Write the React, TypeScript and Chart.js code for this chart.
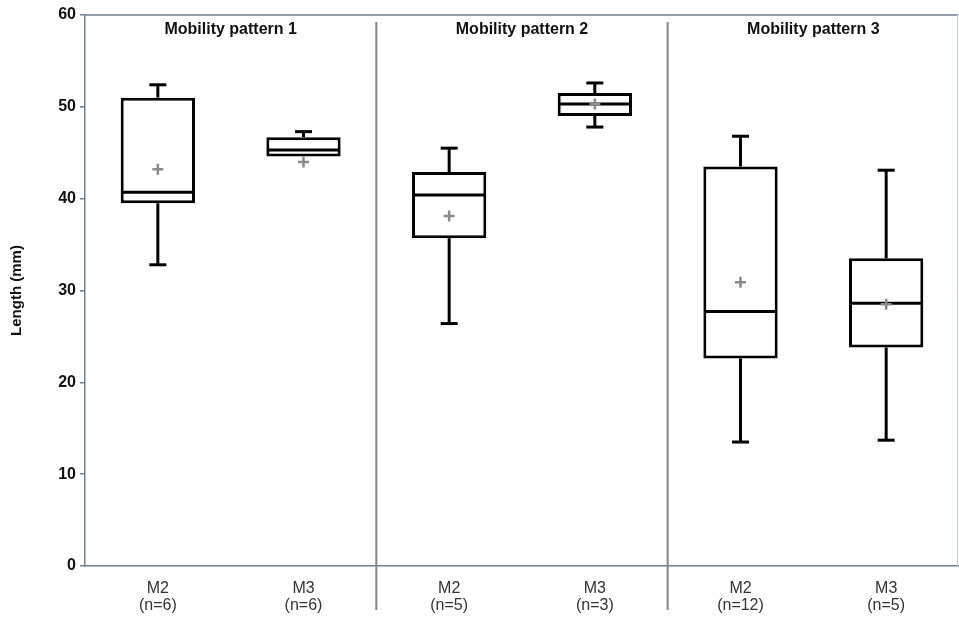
import React, { useEffect, useRef } from "react";
import { Chart, registerables } from "chart.js";

Chart.register(...registerables);

const categories: string[][] = [
  ["M2", "(n=6)"],
  ["M3", "(n=6)"],
  ["M2", "(n=5)"],
  ["M3", "(n=3)"],
  ["M2", "(n=12)"],
  ["M3", "(n=5)"],
];
const patterns = ["Mobility pattern 1", "Mobility pattern 2", "Mobility pattern 3"];
const mins = [32.8, 44.6, 26.4, 47.8, 13.5, 13.7];
const q1s = [39.5, 44.6, 35.7, 49.0, 22.6, 23.8];
const medians = [40.7, 45.3, 40.4, 50.3, 27.7, 28.6];
const q3s = [51.0, 46.7, 42.9, 51.5, 43.5, 33.5];
const maxs = [52.4, 47.3, 45.5, 52.6, 46.8, 43.1];
const means = [43.2, 44.0, 38.1, 50.3, 30.9, 28.5];
const yTicks = [0, 10, 20, 30, 40, 50, 60];

const FONT = "Arial, 'Liberation Sans', Helvetica, sans-serif";

const boxPlugin = {
  id: "boxExtras",
  afterDatasetDraw(chart: any, args: any) {
    if (args.index !== 0) return;
    const { ctx, scales } = chart;
    const x = scales.x;
    const y = scales.y;
    const meta = chart.getDatasetMeta(0);
    ctx.save();
    ctx.strokeStyle = "#000";
    ctx.lineWidth = 3;
    ctx.lineCap = "butt";
    for (let i = 0; i < categories.length; i++) {
      const bar = meta.data[i];
      const cx = x.getPixelForValue(i);
      const half = bar.width / 2 - 1.5;
      const ym = y.getPixelForValue(medians[i]);
      ctx.beginPath();
      ctx.moveTo(cx - half, ym);
      ctx.lineTo(cx + half, ym);
      ctx.stroke();
      const cap = 8.5;
      const segs: [number, number][] = [
        [q3s[i], maxs[i]],
        [q1s[i], mins[i]],
      ];
      for (const [a, b] of segs) {
        if (Math.abs(a - b) < 0.05) continue;
        const ya = y.getPixelForValue(a);
        const yb = y.getPixelForValue(b);
        ctx.beginPath();
        ctx.moveTo(cx, ya);
        ctx.lineTo(cx, yb);
        ctx.stroke();
        ctx.beginPath();
        ctx.moveTo(cx - cap, yb);
        ctx.lineTo(cx + cap, yb);
        ctx.stroke();
      }
    }
    ctx.restore();
  },
  afterDraw(chart: any) {
    const { ctx, scales, chartArea, height, width } = chart;
    const x = scales.x;
    const right = Math.min(chartArea.right, width - 1);
    ctx.save();
    ctx.strokeStyle = "#6f8090";
    ctx.lineWidth = 1.5;
    ctx.beginPath();
    ctx.moveTo(chartArea.left, chartArea.top);
    ctx.lineTo(right, chartArea.top);
    ctx.stroke();
    ctx.strokeStyle = "#c8d0d8";
    ctx.lineWidth = 1;
    ctx.beginPath();
    ctx.moveTo(right - 0.5, chartArea.top);
    ctx.lineTo(right - 0.5, chartArea.bottom);
    ctx.stroke();
    ctx.strokeStyle = "#858585";
    ctx.lineWidth = 2;
    for (let p = 1; p < patterns.length; p++) {
      const xd = (x.getPixelForValue(p * 2 - 1) + x.getPixelForValue(p * 2)) / 2;
      ctx.beginPath();
      ctx.moveTo(xd, chartArea.top + 7);
      ctx.lineTo(xd, height - 7);
      ctx.stroke();
    }
    ctx.fillStyle = "#111";
    ctx.font = `bold 16px ${FONT}`;
    ctx.textAlign = "center";
    ctx.textBaseline = "middle";
    for (let p = 0; p < patterns.length; p++) {
      const xc = (x.getPixelForValue(p * 2) + x.getPixelForValue(p * 2 + 1)) / 2;
      ctx.fillText(patterns[p], xc, chartArea.top + 15);
    }
    ctx.restore();
  },
};

export default function App() {
  const ref = useRef<HTMLCanvasElement | null>(null);
  useEffect(() => {
    if (!ref.current) return;
    const chart = new Chart(ref.current, {
      type: "bar",
      data: {
        labels: categories,
        datasets: [
          {
            type: "bar",
            data: q1s.map((q, i) => [q, q3s[i]]),
            backgroundColor: "#ffffff",
            borderColor: "#000000",
            borderWidth: 3,
            borderSkipped: false,
            barPercentage: 0.51,
            categoryPercentage: 1,
            order: 2,
          } as any,
          {
            type: "line",
            data: means,
            showLine: false,
            pointStyle: "cross",
            pointRadius: 5.5,
            pointBorderWidth: 2.5,
            pointBorderColor: "#8a8a8a",
            pointBackgroundColor: "#8a8a8a",
            order: 1,
          } as any,
        ],
      },
      options: {
        animation: false,
        responsive: false,
        maintainAspectRatio: false,
        layout: { autoPadding: false, padding: { top: 15, right: -3, left: 0, bottom: 0 } },
        plugins: {
          legend: { display: false },
          tooltip: { enabled: false },
          title: { display: false },
        },
        scales: {
          x: {
            type: "category",
            offset: true,
            grid: { display: false, drawTicks: false },
            border: { display: true, color: "#6f8090", width: 1.5 },
            ticks: {
              color: "#333",
              font: { family: FONT, size: 16, lineHeight: 1.05 },
              padding: 14,
              maxRotation: 0,
              autoSkip: false,
            },
            afterFit: (s: any) => {
              s.height = 51;
              s.paddingLeft = 0;
              s.paddingRight = 0;
            },
          },
          y: {
            type: "linear",
            min: 0,
            max: 60,
            afterBuildTicks: (s: any) => {
              s.ticks = yTicks.map((v) => ({ value: v }));
            },
            grid: {
              drawOnChartArea: false,
              drawTicks: true,
              tickLength: 5,
              color: "#6f8090",
              lineWidth: 1.5,
            },
            border: { display: true, color: "#6f8090", width: 1.5 },
            ticks: {
              color: "#111",
              font: { family: FONT, size: 16, weight: "bold" },
              padding: 4,
            },
            title: {
              display: true,
              text: "Length (mm)",
              color: "#111",
              font: { family: FONT, size: 15, weight: "bold" },
              padding: { top: 8, bottom: 0 },
            },
            afterFit: (s: any) => {
              s.width = 85;
            },
          },
        },
      },
      plugins: [boxPlugin],
    });
    return () => chart.destroy();
  }, []);
  return (
    <div style={{ position: "fixed", left: 0, top: 0, width: 959, height: 617, background: "#fff" }}>
      <canvas ref={ref} width={959} height={617} style={{ display: "block" }} />
    </div>
  );
}
